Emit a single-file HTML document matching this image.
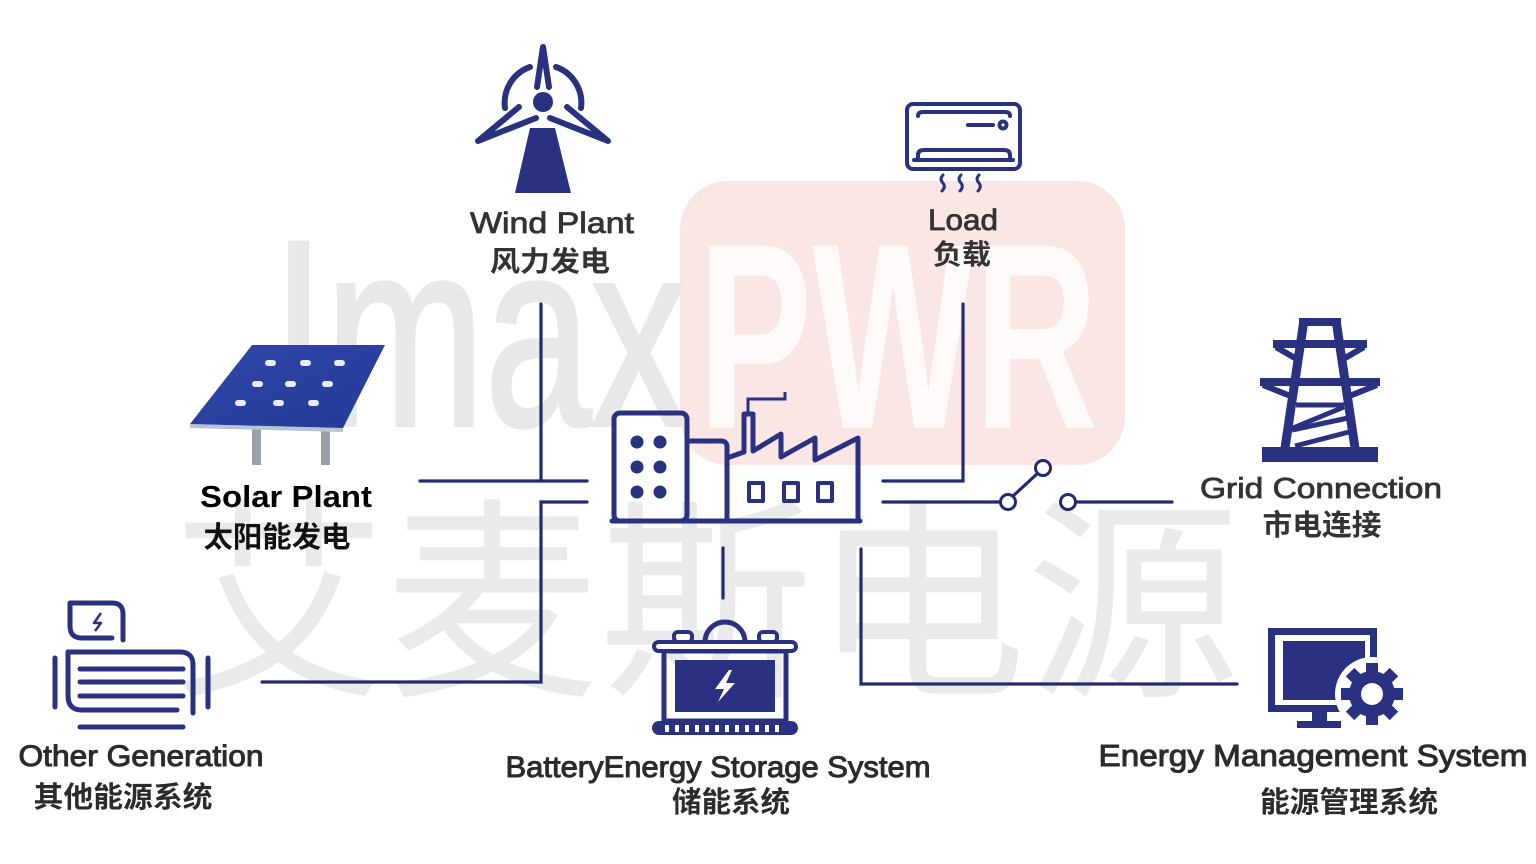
<!DOCTYPE html>
<html><head><meta charset="utf-8">
<style>
html,body{margin:0;padding:0;background:#fff;}
svg{display:block;}
text{font-family:"Liberation Sans","Noto Sans CJK SC",sans-serif;}
</style></head>
<body>
<svg width="1536" height="864" viewBox="0 0 1536 864" xmlns="http://www.w3.org/2000/svg">
<rect width="1536" height="864" fill="#ffffff"/>

<!-- watermark -->
<rect x="680" y="181" width="445" height="284" rx="48" fill="#fbe6e6"/>
<text x="272" y="425" font-size="265" fill="#e8e8e8" stroke="#e8e8e8" stroke-width="4" textLength="415" lengthAdjust="spacingAndGlyphs">Imax</text>
<text x="698" y="428" font-size="265" font-weight="bold" fill="#fffafa" textLength="400" lengthAdjust="spacingAndGlyphs">PWR</text>
<text x="172" y="680" font-size="215" fill="#eaeaea" textLength="1068" lengthAdjust="spacingAndGlyphs">艾麦斯电源</text>

<!-- connectors -->
<g stroke="#232a70" stroke-width="3.2" fill="none" stroke-linecap="round">
<path d="M541,304 V481"/>
<path d="M420,481 H587"/>
<path d="M587,502 H541 V682 H262"/>
<path d="M723,548 V598"/>
<path d="M963,304 V481 H883"/>
<path d="M883,502 H1001"/>
<path d="M1013,496 L1038,473"/>
<path d="M1076,502 H1172"/>
<path d="M861,549 V684 H1237"/>
</g>
<g stroke="#232a70" stroke-width="3" fill="#fff">
<circle cx="1008" cy="502" r="7.5"/>
<circle cx="1043" cy="468" r="7.5"/>
<circle cx="1068" cy="502" r="7.5"/>
</g>

<!-- wind turbine -->
<g fill="#2a3180">
<polygon points="530,128 555,128 571,193 515,193"/>
<circle cx="543" cy="102" r="10"/>
</g>
<g stroke="#2a3180" stroke-width="6" fill="none" stroke-linecap="round" stroke-linejoin="round">
<path d="M505,108 A38,38 0 0,1 530,67"/>
<path d="M556,67 A38,38 0 0,1 581,108"/>
<path d="M537,87 L543,47 L549,87"/>
<path d="M519,107 L478,141 L536,118"/>
<path d="M567,107 L608,141 L550,118"/>
</g>
<text x="552" y="233" font-size="30" fill="#333" text-anchor="middle" textLength="164" lengthAdjust="spacingAndGlyphs" stroke="#333" stroke-width="0.8">Wind Plant</text>
<text x="550" y="271" font-size="28" fill="#333" font-weight="600" text-anchor="middle" textLength="120" lengthAdjust="spacingAndGlyphs">风力发电</text>

<!-- load (AC) -->
<g stroke="#2a3180" stroke-width="4" fill="none" stroke-linecap="round">
<rect x="907" y="104" width="113" height="65" rx="6"/>
<path d="M918,116 Q918,112 923,112 H1005 Q1010,112 1010,116"/>
<path d="M968,125 H993"/>
<circle cx="1003" cy="125" r="3.5"/>
<path d="M918,160 V155 Q918,150 924,150 H1004 Q1010,150 1010,155 V160"/>
<path d="M914,160 H1013"/>
</g>
<g stroke="#2a3180" stroke-width="3" fill="none" stroke-linecap="round">
<path d="M943,175 q-4,4 0,8 q3,4 -1,8"/>
<path d="M961,175 q-4,4 0,8 q3,4 -1,8"/>
<path d="M979,175 q-4,4 0,8 q3,4 -1,8"/>
</g>
<text x="963" y="230" font-size="30" fill="#333" text-anchor="middle" textLength="70" lengthAdjust="spacingAndGlyphs" stroke="#333" stroke-width="0.8">Load</text>
<text x="962" y="264" font-size="28" fill="#333" font-weight="600" text-anchor="middle" textLength="58" lengthAdjust="spacingAndGlyphs">负载</text>

<!-- solar panel -->
<defs>
<linearGradient id="sp" x1="0" y1="0" x2="1" y2="1">
<stop offset="0" stop-color="#2f47a8"/><stop offset="1" stop-color="#243a98"/>
</linearGradient>
</defs>
<rect x="252" y="425" width="9" height="40" fill="#9aa0a8"/>
<rect x="321" y="425" width="9" height="40" fill="#9aa0a8"/>
<polygon points="190,424 343,428 343,432 190,428" fill="#b9c3d6"/>
<polygon points="252,345 385,345 343,428 190,424" fill="url(#sp)"/>
<g fill="#e8eefc">
<rect x="265" y="360" width="11" height="6" rx="3"/>
<rect x="300" y="360" width="11" height="6" rx="3"/>
<rect x="334" y="360" width="11" height="6" rx="3"/>
<rect x="252" y="381" width="11" height="6" rx="3"/>
<rect x="285" y="381" width="11" height="6" rx="3"/>
<rect x="322" y="381" width="11" height="6" rx="3"/>
<rect x="235" y="400" width="11" height="6" rx="3"/>
<rect x="273" y="400" width="11" height="6" rx="3"/>
<rect x="308" y="400" width="11" height="6" rx="3"/>
</g>
<text x="286" y="507" font-size="31" font-weight="bold" fill="#000" text-anchor="middle" textLength="172" lengthAdjust="spacingAndGlyphs">Solar Plant</text>
<text x="277" y="547" font-size="29" font-weight="bold" fill="#111" text-anchor="middle" textLength="147" lengthAdjust="spacingAndGlyphs">太阳能发电</text>

<!-- factory -->
<g stroke="#2a3180" stroke-width="5" fill="none" stroke-linejoin="round" stroke-linecap="round">
<rect x="614" y="413" width="73" height="108" rx="6"/>
<path d="M687,441 H721 Q727,441 727,447 V521"/>
<path d="M612,521 H860"/>
<path d="M727,458 L744,452 V414 H753 V451 L781,434 V457 L815,438 V460 L858,438 V521"/>
<rect x="749" y="483" width="14" height="18" stroke-width="4"/>
<rect x="784" y="483" width="14" height="18" stroke-width="4"/>
<rect x="818" y="483" width="14" height="18" stroke-width="4"/>
</g>
<path d="M748,412 V399 H785 V392" stroke="#2a3180" stroke-width="3" fill="none"/>
<g fill="#2a3180">
<circle cx="637" cy="442" r="6.5"/><circle cx="660" cy="442" r="6.5"/>
<circle cx="637" cy="467" r="6.5"/><circle cx="660" cy="467" r="6.5"/>
<circle cx="637" cy="492" r="6.5"/><circle cx="660" cy="492" r="6.5"/>
</g>

<!-- grid tower -->
<g fill="#2a3180">
<rect x="1262" y="447" width="116" height="15"/>
<rect x="1299" y="318" width="42" height="8"/>
</g>
<g stroke="#2a3180" fill="none" stroke-linecap="butt">
<path d="M1304,320 L1285,448" stroke-width="9"/>
<path d="M1336,320 L1355,448" stroke-width="9"/>
<path d="M1273,344 H1367" stroke-width="8"/>
<path d="M1276,347 L1300,361" stroke-width="6"/>
<path d="M1364,347 L1340,361" stroke-width="6"/>
<path d="M1260,382 H1380" stroke-width="8"/>
<path d="M1263,385 L1293,397" stroke-width="6"/>
<path d="M1377,385 L1347,397" stroke-width="6"/>
<path d="M1296,405 H1344" stroke-width="5"/>
<path d="M1344,407 L1293,428" stroke-width="5"/>
<path d="M1292,430 L1348,418" stroke-width="5"/>
<path d="M1349,432 L1295,446" stroke-width="5"/>
</g>
<text x="1321" y="498" font-size="29" fill="#333" text-anchor="middle" textLength="242" lengthAdjust="spacingAndGlyphs" stroke="#333" stroke-width="0.8">Grid Connection</text>
<text x="1322" y="535" font-size="29" fill="#333" font-weight="600" text-anchor="middle" textLength="119" lengthAdjust="spacingAndGlyphs">市电连接</text>

<!-- other generation -->
<g stroke="#2a3180" stroke-width="5" fill="none" stroke-linecap="round" stroke-linejoin="round">
<path d="M112,638 H82 Q70,638 70,626 V603 H112 Q123,603 123,614 V640"/>
<path d="M177,710 H82 Q68,710 68,696 V652 H180 Q193,652 193,665 V713"/>
<path d="M80,669 H183"/>
<path d="M80,682 H183"/>
<path d="M80,696 H183"/>
<path d="M55,658 V707"/>
<path d="M208,658 V707"/>
<path d="M80,727 H183"/>
</g>
<path d="M101,613 L94,623 H101 L95,631" stroke="#2a3180" stroke-width="2.5" fill="none" stroke-linejoin="round"/>
<text x="141" y="766" font-size="30" fill="#2b2b2b" text-anchor="middle" textLength="245" lengthAdjust="spacingAndGlyphs" stroke="#2b2b2b" stroke-width="1">Other Generation</text>
<text x="123" y="807" font-size="29" fill="#2b2b2b" font-weight="600" text-anchor="middle" textLength="179" lengthAdjust="spacingAndGlyphs">其他能源系统</text>

<!-- battery -->
<g stroke="#2a3180" stroke-width="5" fill="none">
<path d="M705,642 A20,20 0 0,1 745,642"/>
<rect x="674" y="632" width="18" height="10" rx="4" stroke-width="4" fill="#fff"/>
<rect x="759" y="632" width="18" height="10" rx="4" stroke-width="4" fill="#fff"/>
<rect x="664" y="651" width="122" height="70"/>
<rect x="654" y="642" width="142" height="9" rx="4.5" stroke-width="4" fill="#fff"/>
</g>
<rect x="675" y="660" width="100" height="52" fill="#2a3180"/>
<polygon points="729,670 715,689 724,689 718,702 735,683 726,683 732,670" fill="#fff"/>
<rect x="652" y="721" width="146" height="14" rx="7" fill="#2a3180"/>
<g fill="#fff">
<rect x="665" y="725" width="4" height="7"/><rect x="675" y="725" width="4" height="7"/>
<rect x="685" y="725" width="4" height="7"/><rect x="695" y="725" width="4" height="7"/>
<rect x="705" y="725" width="4" height="7"/><rect x="715" y="725" width="4" height="7"/>
<rect x="725" y="725" width="4" height="7"/><rect x="735" y="725" width="4" height="7"/>
<rect x="745" y="725" width="4" height="7"/><rect x="755" y="725" width="4" height="7"/>
<rect x="765" y="725" width="4" height="7"/><rect x="775" y="725" width="4" height="7"/>
</g>
<text x="718" y="777" font-size="30" fill="#2b2b2b" text-anchor="middle" textLength="425" lengthAdjust="spacingAndGlyphs" stroke="#2b2b2b" stroke-width="1">BatteryEnergy Storage System</text>
<text x="731" y="812" font-size="29" fill="#2b2b2b" font-weight="600" text-anchor="middle" textLength="118" lengthAdjust="spacingAndGlyphs">储能系统</text>

<!-- EMS monitor -->
<rect x="1268" y="628" width="109" height="84" fill="#2a3180"/>
<rect x="1275" y="635" width="95" height="70" fill="#fff"/>
<rect x="1283" y="641" width="82" height="59" fill="#2a3180"/>
<rect x="1312" y="711" width="15" height="12" fill="#2a3180"/>
<rect x="1297" y="721" width="44" height="7" fill="#2a3180"/>
<circle cx="1372" cy="694" r="37" fill="#fff"/>
<g transform="translate(1372,694)" fill="#2a3180">
<circle r="23"/>
<rect x="-6" y="-31" width="12" height="12"/>
<rect x="-6" y="-31" width="12" height="12" transform="rotate(45)"/>
<rect x="-6" y="-31" width="12" height="12" transform="rotate(90)"/>
<rect x="-6" y="-31" width="12" height="12" transform="rotate(135)"/>
<rect x="-6" y="-31" width="12" height="12" transform="rotate(180)"/>
<rect x="-6" y="-31" width="12" height="12" transform="rotate(225)"/>
<rect x="-6" y="-31" width="12" height="12" transform="rotate(270)"/>
<rect x="-6" y="-31" width="12" height="12" transform="rotate(315)"/>
<circle r="11" fill="#fff"/>
</g>
<text x="1313" y="766" font-size="31" fill="#2b2b2b" text-anchor="middle" textLength="429" lengthAdjust="spacingAndGlyphs" stroke="#2b2b2b" stroke-width="1">Energy Management System</text>
<text x="1349" y="812" font-size="29" fill="#2b2b2b" font-weight="600" text-anchor="middle" textLength="178" lengthAdjust="spacingAndGlyphs">能源管理系统</text>
</svg>
</body></html>
